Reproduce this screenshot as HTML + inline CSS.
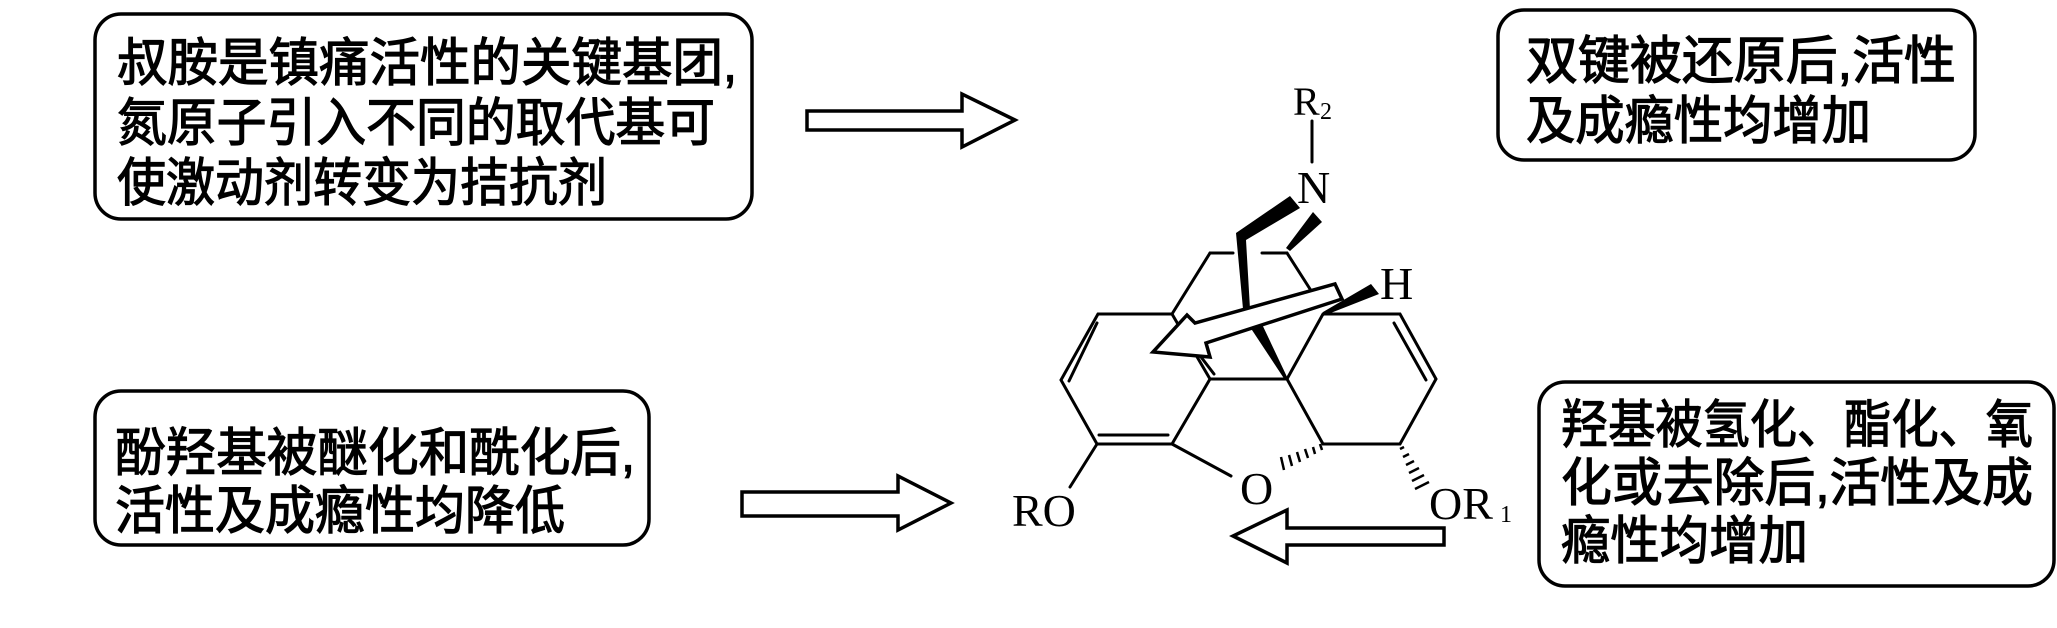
<!DOCTYPE html>
<html><head><meta charset="utf-8"><style>
html,body{margin:0;padding:0;background:#fff;}
svg{display:block;}
.cn{font-family:"Liberation Sans","Noto Sans CJK SC",sans-serif;font-size:52px;font-weight:normal;fill:#000;stroke:#000;stroke-width:1.2px;}
.at{font-family:"Liberation Serif",serif;fill:#000;}
</style></head><body>
<svg width="2057" height="628" viewBox="0 0 2057 628" xmlns="http://www.w3.org/2000/svg">
<g fill="none" stroke="#000" stroke-width="3.5">
<rect x="95" y="14" width="657" height="205" rx="26"/>
<rect x="95" y="391" width="554" height="154" rx="26"/>
<rect x="1498" y="10" width="477" height="150" rx="26"/>
<rect x="1539" y="382" width="515" height="204" rx="26"/>
</g>
<g class="cn">
<text x="117" y="81" textLength="620" lengthAdjust="spacingAndGlyphs">叔胺是镇痛活性的关键基团,</text>
<text x="117" y="141" textLength="598" lengthAdjust="spacingAndGlyphs">氮原子引入不同的取代基可</text>
<text x="117" y="201" textLength="490" lengthAdjust="spacingAndGlyphs">使激动剂转变为拮抗剂</text>
<text x="115" y="471" textLength="520" lengthAdjust="spacingAndGlyphs">酚羟基被醚化和酰化后,</text>
<text x="115" y="529" textLength="450" lengthAdjust="spacingAndGlyphs">活性及成瘾性均降低</text>
<text x="1526" y="79" textLength="430" lengthAdjust="spacingAndGlyphs">双键被还原后,活性</text>
<text x="1526" y="139" textLength="345" lengthAdjust="spacingAndGlyphs">及成瘾性均增加</text>
<text x="1561" y="443" textLength="472" lengthAdjust="spacingAndGlyphs">羟基被氢化、酯化、氧</text>
<text x="1561" y="501" textLength="472" lengthAdjust="spacingAndGlyphs">化或去除后,活性及成</text>
<text x="1561" y="559" textLength="247" lengthAdjust="spacingAndGlyphs">瘾性均增加</text>
</g>
<g fill="#fff" stroke="#000" stroke-width="3.5" stroke-linejoin="miter">
<polygon points="807,111 962,111 962,94 1015,120 962,147 962,130 807,130"/>
<polygon points="742,492 898,492 898,476 951,503 898,530 898,516 742,516"/>
<polygon points="1444,528 1287,528 1287,510 1233,536 1287,563 1287,545 1444,545"/>
</g>
<g fill="none" stroke="#000" stroke-width="3" stroke-linecap="round">
<line x1="1312" y1="121" x2="1312" y2="162"/>
<polyline points="1098,314 1172,314 1210,379 1172,444 1097,444 1061,380 1098,314"/>
<line x1="1210" y1="379" x2="1287" y2="379"/>
<polyline points="1287,379 1323,314 1400,314 1436,379 1400,444 1323,444 1287,379"/>
<line x1="1172" y1="314" x2="1210" y2="253"/>
<line x1="1210" y1="253" x2="1233" y2="253"/>
<line x1="1262" y1="253" x2="1287" y2="253"/>
<line x1="1287" y1="253" x2="1310" y2="289"/>
<line x1="1069" y1="381" x2="1097" y2="323"/>
<line x1="1099" y1="435" x2="1168" y2="435"/>
<line x1="1201" y1="357" x2="1214" y2="374"/>
<line x1="1394" y1="323" x2="1426" y2="380"/>
<line x1="1172" y1="444" x2="1231" y2="476"/>
<line x1="1097" y1="444" x2="1070" y2="487"/>
</g>
<g fill="#000">
<polygon points="1290,196 1300,208 1246,240 1250,309 1243,309 1236,233"/>
<polygon points="1313,212 1322,222 1290,251 1286,248"/>
<polygon points="1250,327 1260,320 1288,379 1285,380"/>
<polygon points="1323,316 1323,312 1371,284 1379,294"/>
</g>
<g stroke="#000" stroke-width="2.5">
<line x1="1320" y1="444" x2="1322" y2="450"/>
<line x1="1313" y1="447" x2="1315" y2="454"/>
<line x1="1305" y1="449" x2="1308" y2="458"/>
<line x1="1297" y1="452" x2="1300" y2="462"/>
<line x1="1289" y1="455" x2="1292" y2="466"/>
<line x1="1281" y1="457" x2="1284" y2="470"/>
<line x1="1404" y1="447" x2="1400" y2="449"/>
<line x1="1409" y1="454" x2="1403" y2="457"/>
<line x1="1414" y1="461" x2="1406" y2="465"/>
<line x1="1419" y1="468" x2="1409" y2="473"/>
<line x1="1424" y1="475" x2="1412" y2="481"/>
<line x1="1429" y1="482" x2="1415" y2="489"/>
</g>
<polygon points="1335,284 1342,299 1206,343 1210,357 1153,352 1187,315 1195,323" fill="#fff" stroke="#000" stroke-width="3.5"/>
<g class="at">
<text x="1293" y="115" font-size="40">R</text><text x="1320" y="119" font-size="24">2</text>
<text x="1297" y="203" font-size="46">N</text>
<text x="1380" y="299" font-size="46">H</text>
<text x="1240" y="504" font-size="46">O</text>
<text x="1012" y="526" font-size="46">RO</text>
<text x="1429" y="519" font-size="46">OR</text><text x="1500" y="522" font-size="24">1</text>
</g>
</svg>
</body></html>
